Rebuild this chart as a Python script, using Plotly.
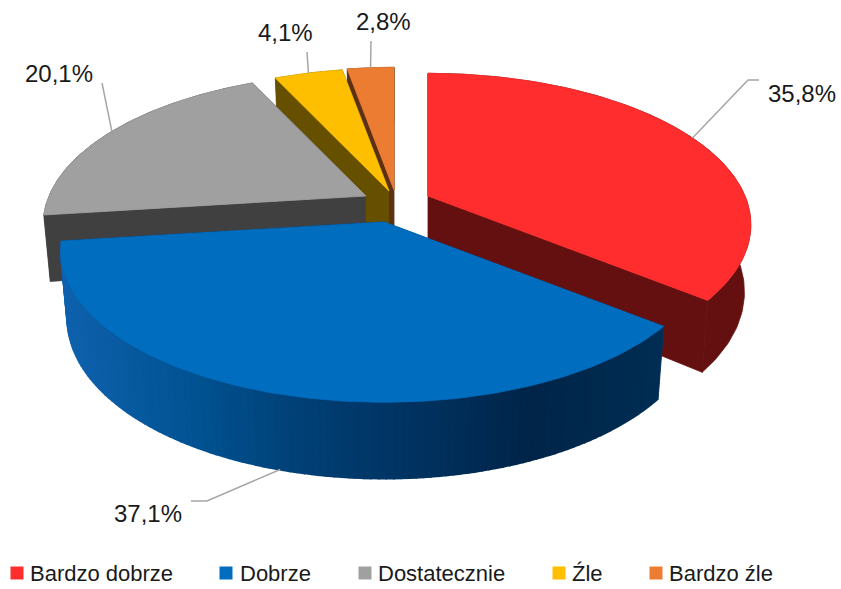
import numpy as np
import plotly.graph_objects as go

# --- data ---
categories = ["Bardzo dobrze", "Dobrze", "Dostatecznie", "Źle", "Bardzo źle"]
values = [35.8, 37.1, 20.1, 4.1, 2.8]
labels = ["35,8%", "37,1%", "20,1%", "4,1%", "2,8%"]

# --- style ---
top_colors = ["#FF2D2D", "#006DBF", "#A0A0A0", "#FDBF00", "#EB7C31"]
wall_colors = ["#641010", "#003a6c", "#404040", "#665000", "#5C3014"]
blue_wall_stops = [(60, (16, 98, 174)), (200, (0, 82, 145)), (300, (0, 64, 118)),
                   (420, (0, 50, 96)), (530, (0, 37, 73)), (665, (0, 46, 84))]

# --- 3D pie geometry (pixels in a 841x589 frame) ---
apexes = {0: (428, 196), 1: (384, 222), 2: (366, 196), 3: (389, 191), 4: (394, 190)}
B, A, K = 317.0, 146.0, 0.19
DEPTH0, DEPTH1, INSET = 65.0, 11.0, 0.02
label_xy = [(802, 93), (148, 513), (59, 73), (285, 32), (383, 21)]
elbows = [[(748, 80), (759, 80)], [(207, 501), (191, 501)], [(102, 83)], [(307, 52)], [(371, 41)]]
legend_square_x = [17, 226, 365, 559, 656]
legend_text_x = [30, 240, 378, 572, 669]
legend_y = 573


def project(theta, apex, bottom=False):
    u, v = np.sin(theta), -np.cos(theta)
    s = 1.0 / (1.0 - K * v)
    x, y = B * u * s, A * v * s
    if bottom:
        x, y = x * (1 - INSET), y + DEPTH0 + DEPTH1 * v
    return apex[0] + x, apex[1] + y


def poly(xs, ys, color, width=0.8):
    return go.Scatter(x=list(xs), y=list(ys), mode="lines", fill="toself", fillcolor=color,
                      line=dict(color=color, width=width), hoverinfo="skip", showlegend=False)


def blue_at(x):
    xp = [p[0] for p in blue_wall_stops]
    rgb = [np.interp(x, xp, [p[1][i] for p in blue_wall_stops]) for i in range(3)]
    return "rgb(%d,%d,%d)" % tuple(int(c) for c in rgb)


fig = go.Figure()
total = sum(values)
edges = np.concatenate([[0], np.cumsum(values)]) / total * 2 * np.pi

for i in [4, 3, 2, 0, 1]:
    t0, t1 = edges[i], edges[i + 1]
    ap = apexes[i]
    th = np.linspace(t0, t1, 120)
    tx, ty = project(th, ap)
    bx, by = project(th, ap, True)
    # cut faces
    for t in (t0, t1):
        x1, y1 = project(t, ap)
        x2, y2 = project(t, ap, True)
        fig.add_trace(poly([ap[0], x1, x2, ap[0]], [ap[1], y1, y2, ap[1] + DEPTH0], wall_colors[i]))
    # rim wall
    if i == 1:
        for j in range(len(th) - 1):
            fig.add_trace(poly([tx[j], tx[j + 1], bx[j + 1], bx[j]],
                               [ty[j], ty[j + 1], by[j + 1], by[j]],
                               blue_at((tx[j] + tx[j + 1]) / 2), width=2.5))
    else:
        fig.add_trace(poly(np.concatenate([tx, bx[::-1]]), np.concatenate([ty, by[::-1]]), wall_colors[i]))
    # top face
    fig.add_trace(poly(np.concatenate([[ap[0]], tx, [ap[0]]]),
                       np.concatenate([[ap[1]], ty, [ap[1]]]), top_colors[i]))

# leader lines, anchored on each slice's mid-angle
for i in range(len(values)):
    mid = (edges[i] + edges[i + 1]) / 2
    x0, y0 = project(mid, apexes[i], bottom=(i == 1))
    pts = [(x0, y0)] + elbows[i]
    fig.add_trace(go.Scatter(x=[p[0] for p in pts], y=[p[1] for p in pts], mode="lines",
                             line=dict(color="#A6A6A6", width=1.5), hoverinfo="skip", showlegend=False))

# legend squares
fig.add_trace(go.Scatter(x=legend_square_x, y=[legend_y] * len(categories), mode="markers",
                         marker=dict(symbol="square", size=13, color=top_colors),
                         hoverinfo="skip", showlegend=False))

anns = []
for (x, y), t in zip(label_xy, labels):
    anns.append(dict(x=x, y=y, text=t, showarrow=False, xanchor="center", yanchor="middle",
                     font=dict(size=24, color="#1A1A1A")))
for x, t in zip(legend_text_x, categories):
    anns.append(dict(x=x, y=legend_y, text=t, showarrow=False, xanchor="left", yanchor="middle",
                     xshift=-2, font=dict(size=22, color="#1A1A1A")))

fig.update_layout(
    width=841, height=589, margin=dict(l=0, r=0, t=0, b=0),
    paper_bgcolor="white", plot_bgcolor="white", showlegend=False,
    font=dict(family="Liberation Sans, Arial, sans-serif"),
    xaxis=dict(range=[0, 841], visible=False, fixedrange=True),
    yaxis=dict(range=[589, 0], visible=False, fixedrange=True),
    annotations=anns,
)
fig.write_html("out.html", config={"displayModeBar": False},
               post_script="document.body.style.margin='0';document.body.style.overflow='hidden';")
